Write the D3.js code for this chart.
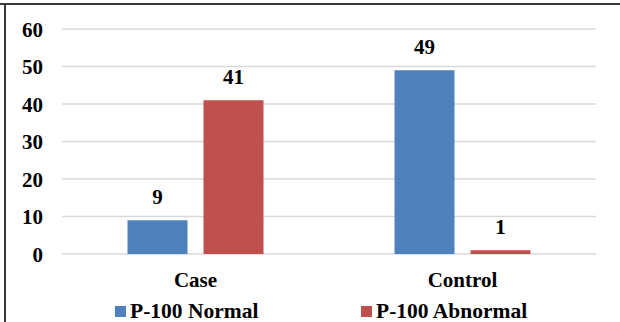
<!DOCTYPE html>
<html><head><meta charset="utf-8">
<script src="https://cdn.jsdelivr.net/npm/d3@7"></script>
<style>html,body{margin:0;padding:0;background:#fff;}svg{display:block;}</style>
</head><body>
<svg id="c" width="620" height="322"></svg>
<script>
const categories = ["Case", "Control"];
const seriesNames = ["P-100 Normal", "P-100 Abnormal"];
const normalValues = [9, 49];
const abnormalValues = [41, 1];
const yTicks = [0, 10, 20, 30, 40, 50, 60];
const colors = ["#4F81BD", "#C0504D"];

(function(){
const svg = d3.select("#c");
const pLeft = 62, pRight = 596, pTop = 29, pBottom = 254;
const y = d3.scaleLinear().domain([0, 60]).range([pBottom, pTop]);
const x0 = d3.scaleBand().domain(categories).range([pLeft, pRight]).paddingInner(0).paddingOuter(0);
const x1 = d3.scaleBand().domain(seriesNames).range([x0.bandwidth()/2 - 68, x0.bandwidth()/2 + 68]).paddingInner(16/76).paddingOuter(0);

// border
svg.append("line").attr("x1", 0).attr("x2", 620).attr("y1", 4).attr("y2", 4).attr("stroke", "#3a3a3a").attr("stroke-width", 2);
svg.append("line").attr("x1", 5).attr("x2", 5).attr("y1", 3).attr("y2", 322).attr("stroke", "#3a3a3a").attr("stroke-width", 2);

// gridlines
svg.append("g").selectAll("line").data(yTicks).join("line")
  .attr("x1", pLeft).attr("x2", pRight)
  .attr("y1", d => y(d)).attr("y2", d => y(d))
  .attr("stroke", "#d9d9d9").attr("stroke-width", 1.5);

// y axis labels
const yAxis = d3.axisLeft(y).tickValues(yTicks).tickSize(0).tickPadding(0);
const ya = svg.append("g").attr("transform", `translate(43,0)`).call(yAxis);
ya.select(".domain").remove();
ya.selectAll("text").attr("fill", "#000").attr("dy", "0.34em");

const data = categories.map((c, i) => ({cat: c, vals: [normalValues[i], abnormalValues[i]]}));
const groups = svg.append("g").selectAll("g").data(data).join("g")
  .attr("transform", d => `translate(${x0(d.cat)},0)`);
groups.selectAll("rect").data(d => d.vals.map((v, j) => ({v, s: seriesNames[j], j}))).join("rect")
  .attr("x", d => x1(d.s)).attr("width", x1.bandwidth())
  .attr("y", d => y(d.v)).attr("height", d => y(0) - y(d.v))
  .attr("fill", d => colors[d.j]);
groups.selectAll("text").data(d => d.vals.map((v, j) => ({v, s: seriesNames[j], j}))).join("text")
  .attr("x", d => x1(d.s) + x1.bandwidth()/2).attr("y", d => y(d.v) - 16)
  .attr("text-anchor", "middle").attr("fill", "#000")
  .text(d => d.v);

// x axis labels
const xAxis = d3.axisBottom(x0).tickSize(0).tickPadding(0);
const xa = svg.append("g").attr("transform", `translate(0,${pBottom})`).call(xAxis);
xa.select(".domain").remove();
xa.selectAll("text").attr("fill", "#000").attr("dy", null).attr("y", 33);

svg.selectAll("text")
  .attr("font-family", "Liberation Serif")
  .style("font-family", "'Liberation Serif'")
  .attr("font-weight", "bold")
  .attr("font-size", 21)
  .style("font-size", "21px");

// legend
const legendX = [115, 361];
const lg = svg.append("g").selectAll("g").data(seriesNames).join("g")
  .attr("transform", (d, i) => `translate(${legendX[i]},306)`);
lg.append("rect").attr("width", 11).attr("height", 11).attr("fill", (d, i) => colors[i]);
lg.append("text").attr("x", 15).attr("y", 11.5).attr("fill", "#000")
  .style("font-family", "'Liberation Serif'").style("font-weight", "bold").style("font-size", "21.5px")
  .text(d => d);
})();
</script>
</body></html>
